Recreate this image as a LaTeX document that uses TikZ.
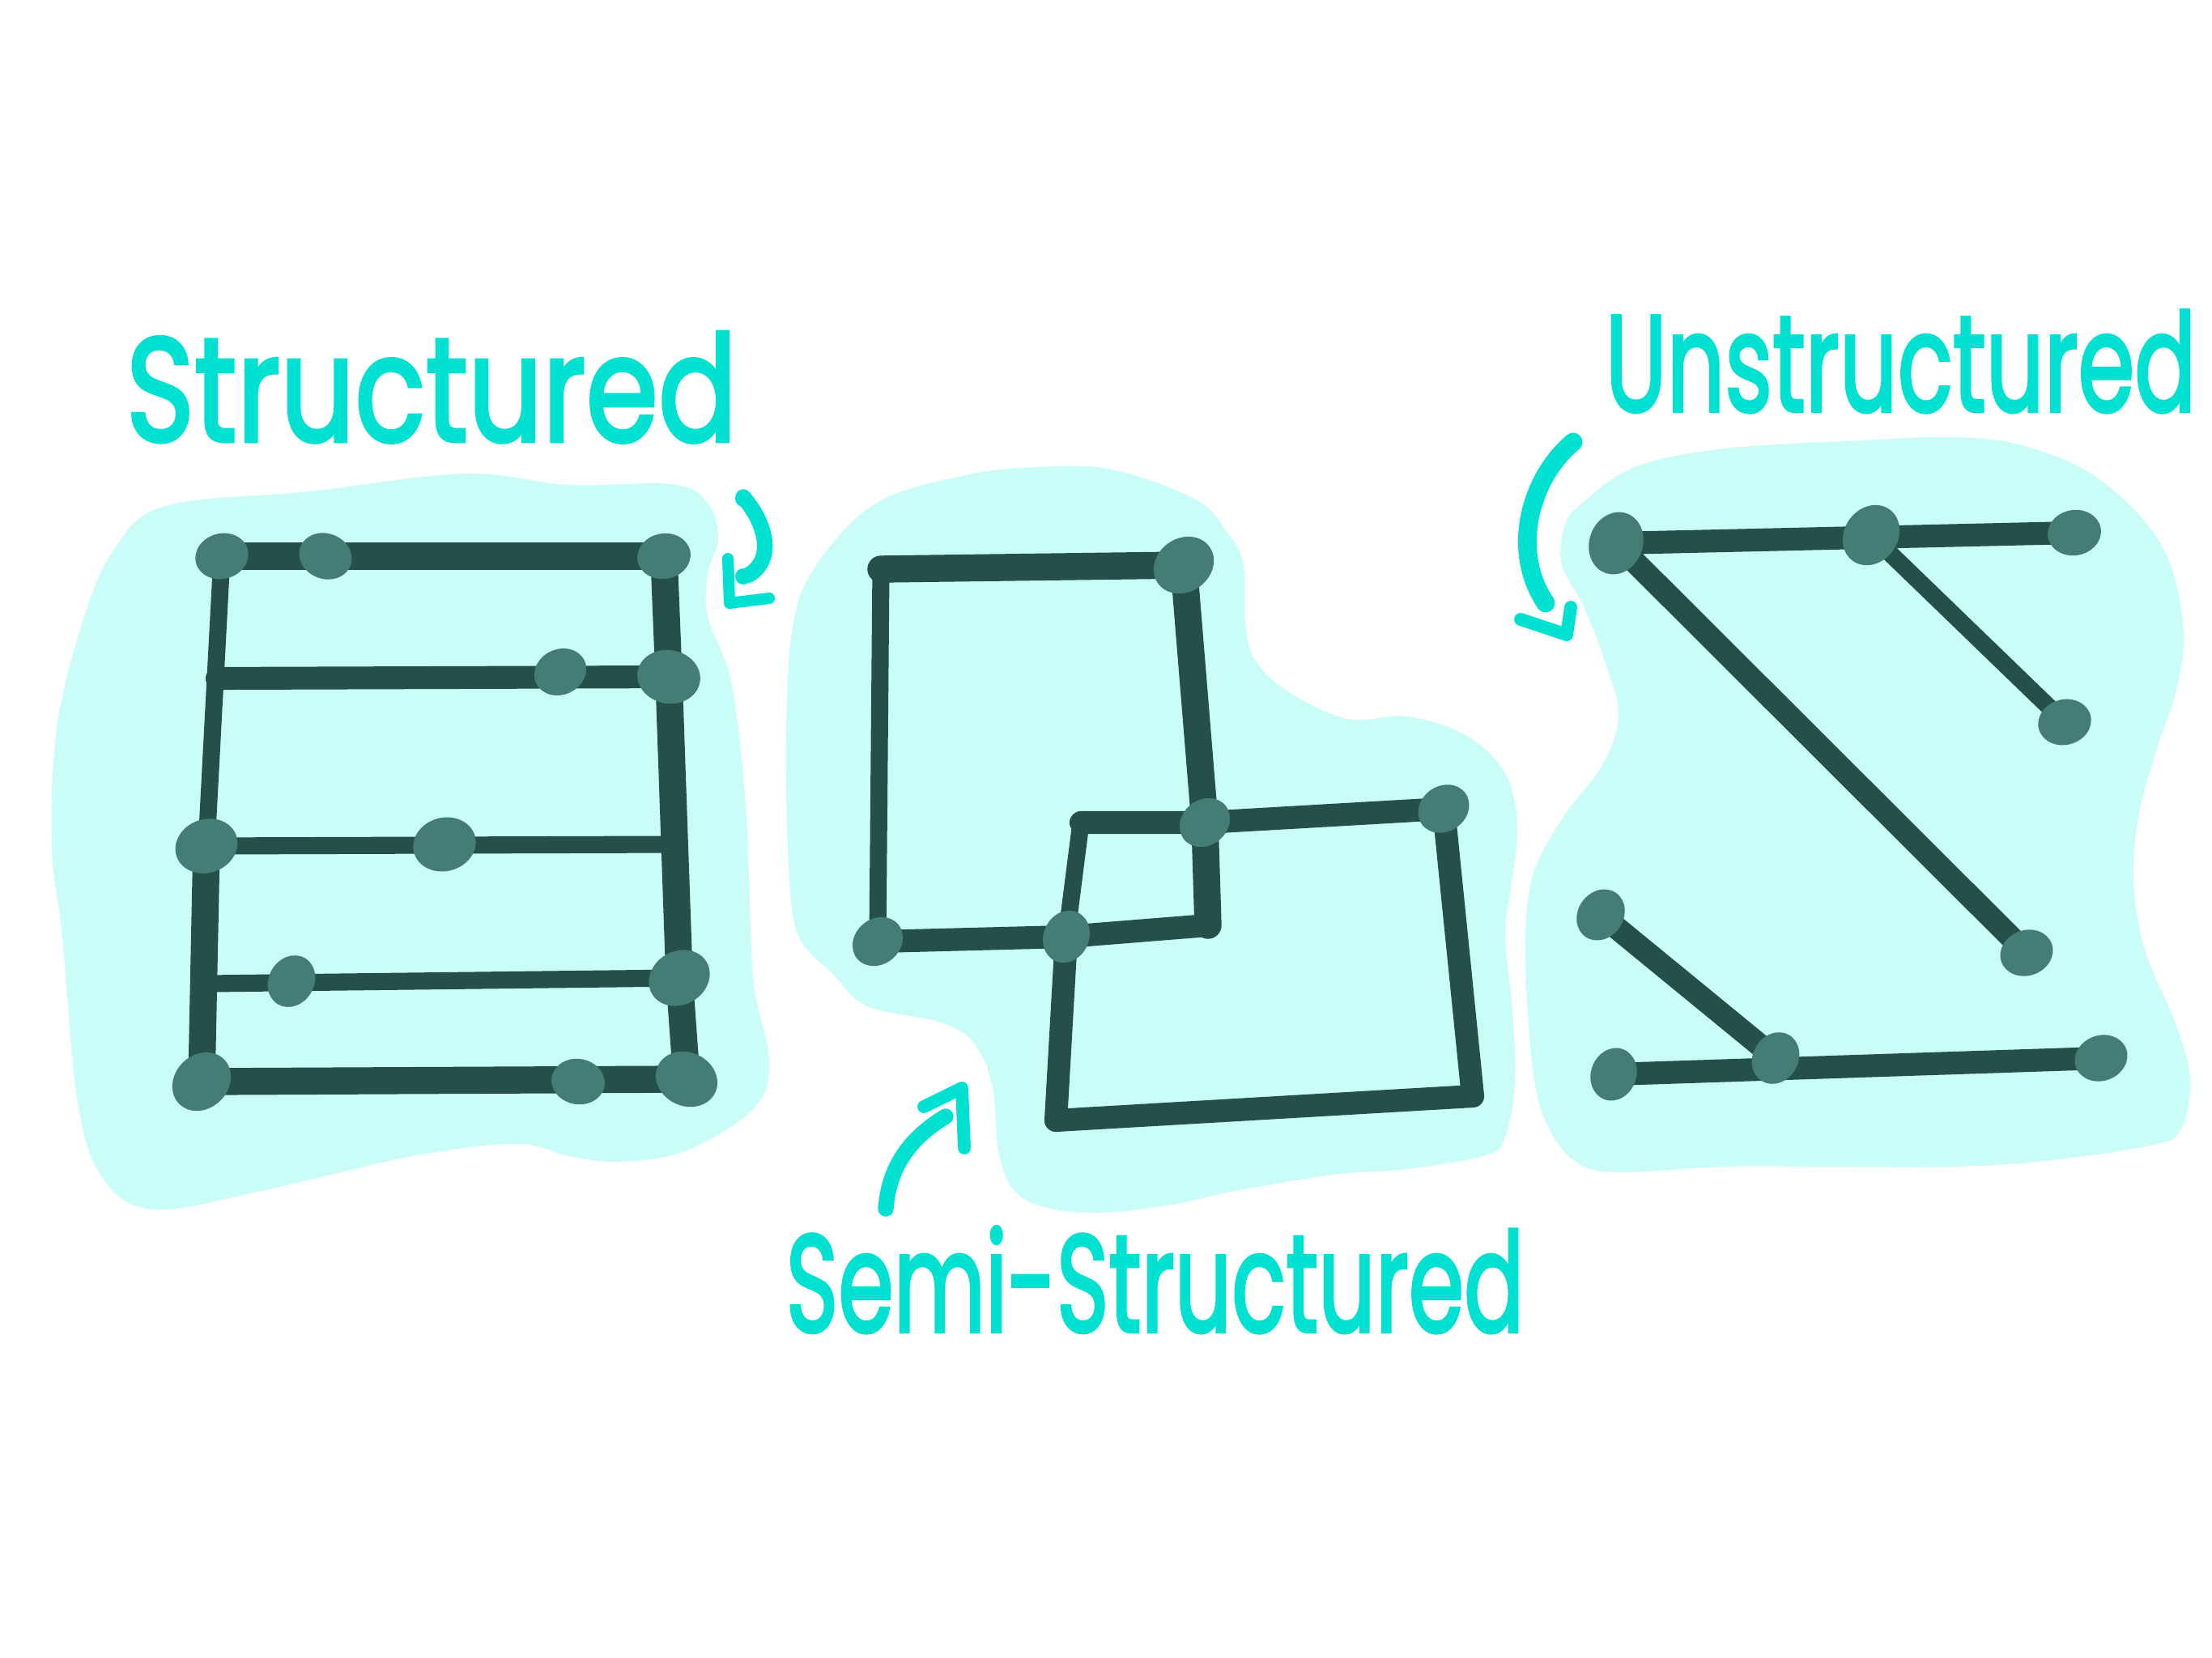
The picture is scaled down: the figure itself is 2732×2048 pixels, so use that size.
\documentclass[tikz,border=0pt]{standalone}
\usepackage{fontspec}
\usepackage{graphicx}
\usepackage{tikz}
\usetikzlibrary{shapes.geometric}
\newfontfamily\handfont{Poppins}[FakeBold=2.5]
\definecolor{blobcol}{RGB}{202,253,248}
\definecolor{linecol}{RGB}{37,79,75}
\definecolor{dotcol}{RGB}{68,125,118}
\definecolor{inkcol}{RGB}{0,225,210}
\tikzset{font=\handfont}
\tikzstyle{point}    = [coordinate]
\tikzstyle{dot}      = [ellipse, fill=dotcol, inner sep=0pt, minimum width=0.66cm, minimum height=0.56cm]
\tikzstyle{bigdot}   = [dot, minimum width=0.78cm, minimum height=0.66cm]
\tikzstyle{link}     = [draw=linecol, line width=8pt, line cap=round, line join=round]
\tikzstyle{thinlink} = [link, line width=6pt]
\tikzstyle{boldlink} = [link, line width=9.5pt]
\tikzstyle{blob}     = [fill=blobcol]
\tikzstyle{hand}     = [text=inkcol, inner sep=0pt, anchor=base west]
\tikzstyle{ink}      = [draw=inkcol, line width=4.5pt, line cap=round, line join=round]
\pgfdeclarelayer{back}
\pgfdeclarelayer{mid}
\pgfsetlayers{back,mid,main}

\begin{document}
\begin{tikzpicture}[x=0.01cm, y=-0.01cm]
	\useasboundingbox (0,0) rectangle (2732,2048);

	\node [dot, rotate=15] (s1) at (274,687) {};
	\node [dot, rotate=-20] (s2) at (402,687) {};
	\node [dot, rotate=10] (s3) at (820,687) {};
	\node [dot, rotate=25] (s4) at (692,830) {};
	\node [bigdot, rotate=-10] (s5) at (826,836) {};
	\node [bigdot, rotate=20] (s6) at (255,1045) {};
	\node [bigdot, rotate=15] (s7) at (549,1043) {};
	\node [dot, rotate=60] (s8) at (360,1212) {};
	\node [bigdot, rotate=30] (s9) at (839,1208) {};
	\node [bigdot, rotate=45] (s10) at (249,1336) {};
	\node [dot, rotate=-10] (s11) at (714,1336) {};
	\node [bigdot, rotate=-25] (s12) at (848,1333) {};
	\node [point] (s2l) at (268,838) {};
	\node [point] (s3r) at (828,1043) {};
	\node [point] (s4l) at (257,1215) {};

	\node [point] (c1) at (1088,703) {};
	\node [bigdot, rotate=35] (m1) at (1462,698) {};
	\node [dot, rotate=40] (m2) at (1488,1016) {};
	\node [dot, rotate=35] (m3) at (1783,999) {};
	\node [dot, rotate=40] (m4) at (1084,1163) {};
	\node [dot, rotate=65] (m5) at (1317,1157) {};
	\node [point] (c2) at (1492,1143) {};
	\node [point] (c3) at (1335,1016) {};
	\node [point] (c4) at (1819,1354) {};
	\node [point] (c5) at (1304,1384) {};

	\node [bigdot, rotate=70] (u1) at (1996,671) {};
	\node [bigdot, rotate=55] (u2) at (2311,661) {};
	\node [dot, rotate=10] (u3) at (2562,658) {};
	\node [dot, rotate=15] (u4) at (2550,892) {};
	\node [dot, rotate=20] (u5) at (2503,1177) {};
	\node [dot, rotate=55] (u6) at (1977,1130) {};
	\node [dot, rotate=60] (u7) at (2193,1307) {};
	\node [dot, rotate=70] (u8) at (1993,1327) {};
	\node [dot, rotate=20] (u9) at (2595,1307) {};

	\node [hand] (lblst) at (155,545) {\resizebox{7.54cm}{1.35cm}{Structured}};
	\node [hand] (lblsemi) at (970,1645) {\resizebox{9.11cm}{1.3cm}{Semi-Structured}};
	\node [hand] (lblun) at (1982,508) {\resizebox{7.29cm}{1.25cm}{Unstructured}};

	\node [point] (semitail) at (1094,1493) {};
	\node [point] (semitip) at (1168,1379) {};
	\node [point] (untail) at (1943,546) {};
	\node [point] (untip) at (1909,745) {};

	\begin{pgfonlayer}{back}
		\fill [blob] plot [smooth cycle, tension=0.6] coordinates {(204,625) (383,607) (574,585) (702,599) (829,598) (874,621) (887,665) (874,709) (874,761) (899,827) (912,900) (922,1010) (925,1083) (931,1215) (950,1311) (931,1369) (848,1421) (765,1435) (702,1428) (638,1413) (510,1428) (319,1472) (191,1494) (128,1457) (96,1362) (77,1157) (64,1047) (70,900) (102,768) (140,680)};
		\fill [blob] plot [smooth cycle, tension=0.6] coordinates {(1083,621) (1192,587) (1283,577) (1374,580) (1477,617) (1513,654) (1535,694) (1538,768) (1550,815) (1592,855) (1665,888) (1738,885) (1810,908) (1859,955) (1874,1022) (1865,1103) (1859,1156) (1868,1250) (1871,1337) (1859,1404) (1835,1427) (1738,1444) (1647,1451) (1526,1471) (1447,1488) (1344,1498) (1265,1481) (1235,1431) (1226,1344) (1204,1290) (1162,1263) (1071,1243) (1029,1203) (986,1156) (974,1069) (971,902) (980,768) (1011,694)};
		\fill [blob] plot [smooth cycle, tension=0.6] coordinates {(1951,624) (2019,577) (2131,554) (2300,544) (2413,540) (2497,550) (2581,584) (2649,644) (2683,704) (2697,785) (2688,852) (2666,919) (2643,999) (2635,1086) (2649,1173) (2688,1267) (2705,1334) (2694,1394) (2660,1414) (2525,1434) (2413,1441) (2244,1441) (2131,1441) (2002,1448) (1951,1438) (1917,1401) (1895,1334) (1884,1187) (1892,1086) (1929,1012) (1979,945) (1999,885) (1985,825) (1957,751) (1929,698) (1932,651)};
	\end{pgfonlayer}

	\begin{pgfonlayer}{mid}
		\draw [thinlink] (s1.center) -- (s6.center);
		\draw [boldlink] (s6.center) -- (s10.center);
		\draw [boldlink] (s3.center) -- (s5.center) -- (s9.center) -- (s12.center);
		\draw [boldlink] (s1.center) -- (s3.center);
		\draw [link] (s2l) -- (s5.center);
		\draw [thinlink] (s6.center) -- (s3r);
		\draw [thinlink] (s4l) -- (s9.center);
		\draw [boldlink] (s10.center) -- (s12.center);

		\draw [boldlink] (c1) -- (m1.center);
		\draw [thinlink] (c1) -- (m4.center);
		\draw [boldlink] (m1.center) -- (m2.center) -- (c2);
		\draw [link] (c2) -- (m5.center) -- (m4.center);
		\draw [link] (c3) -- (m2.center) -- (m3.center);
		\draw [thinlink] (c3) -- (m5.center);
		\draw [link] (m5.center) -- (c5) -- (c4) -- (m3.center);

		\draw [link] (u1.center) -- (u3.center);
		\draw [thinlink] (u2.center) -- (u4.center);
		\draw [link] (u1.center) -- (u5.center);
		\draw [link] (u6.center) -- (u7.center);
		\draw [link] (u8.center) -- (u9.center);
	\end{pgfonlayer}

	\draw [ink, line width=5.5pt] (semitail) .. controls (1098,1440) and (1125,1405) .. (semitip);
	\draw [ink] (1141,1367) -- (1188,1344) -- (1191,1418);
	\draw [ink, line width=6.5pt] (untail) .. controls (1890,590) and (1865,680) .. (untip);
	\draw [ink] (1878,765) -- (1935,784) -- (1940,750);
	\draw [ink, line width=5.5pt] (918,614) .. controls (945,645) and (958,690) .. (925,710);
	\fill [inkcol] (918,712) circle (0.1cm);
	\fill [inkcol] (918,616) circle (0.1cm);
	\draw [ink, line width=4pt] (899,690) -- (901,745) -- (950,739);
\end{tikzpicture}
\end{document}
